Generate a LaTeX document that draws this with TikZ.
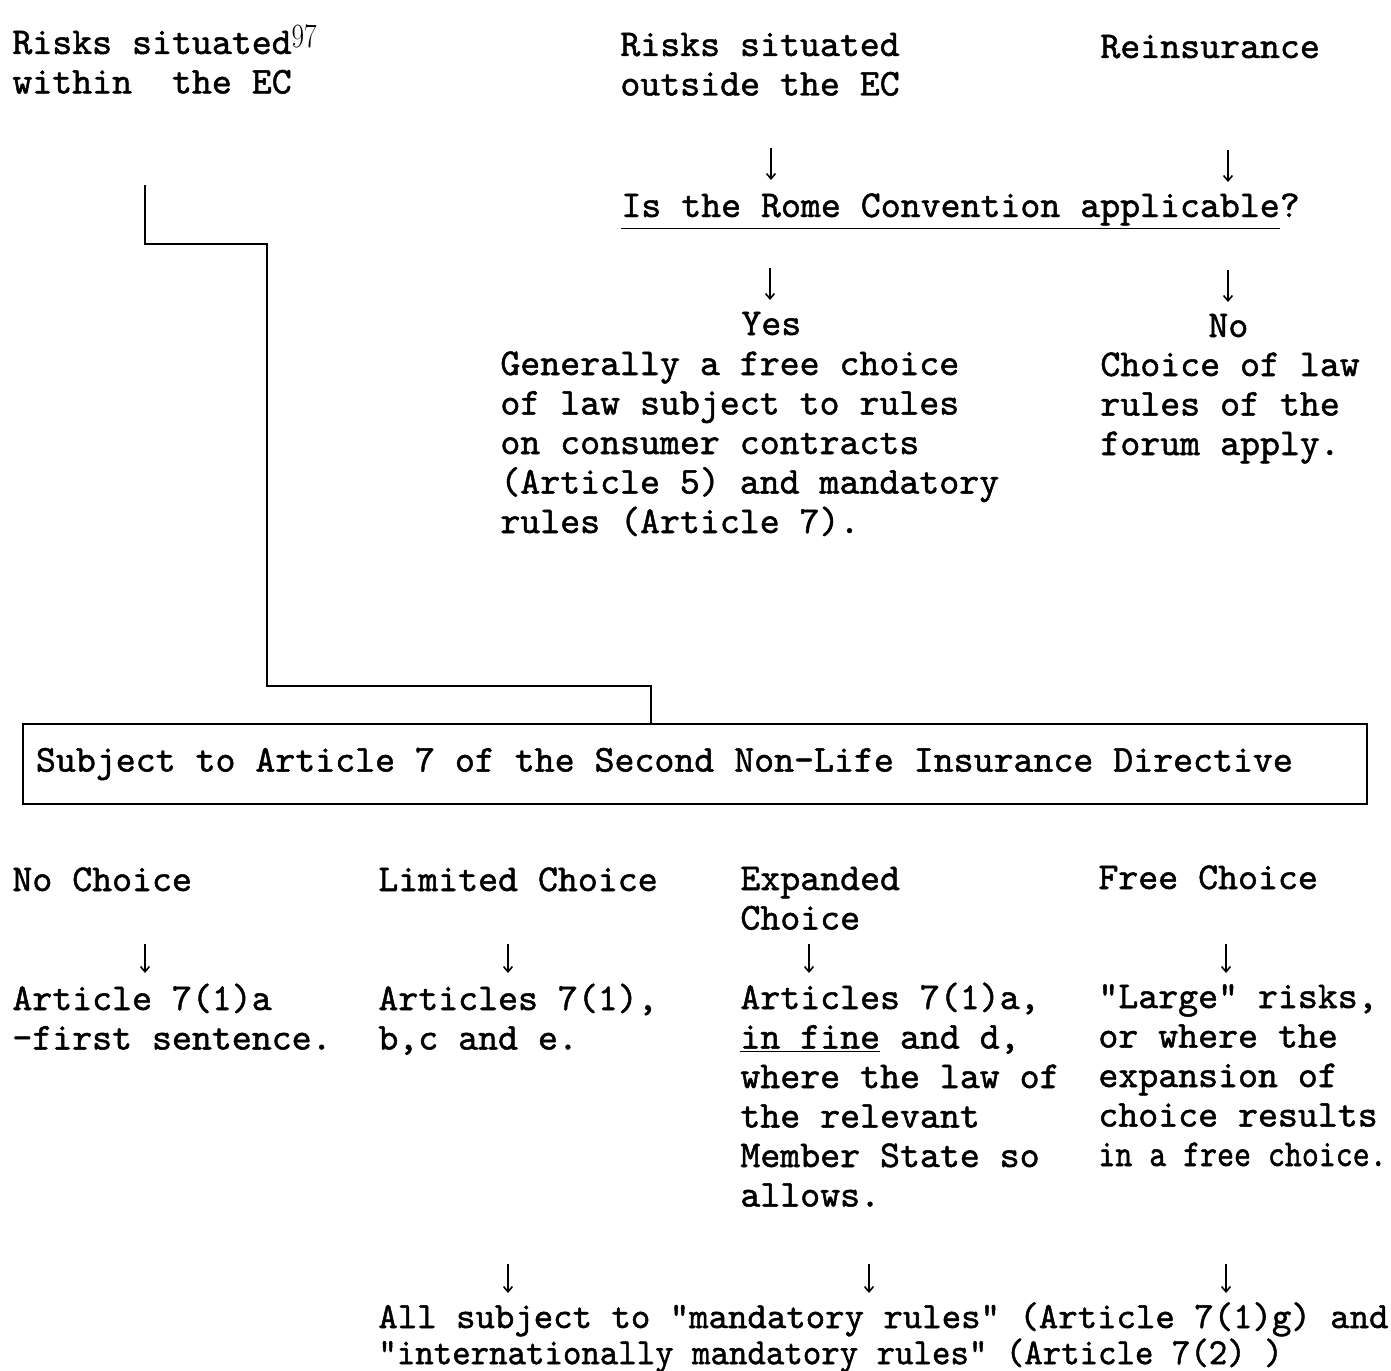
\documentclass[tikz,border=0pt]{standalone}
\usepackage{graphicx}
\usepackage{fontspec}
\setmonofont{lmmono10-regular.otf}[FakeBold=1.3]
\usetikzlibrary{arrows.meta}
\newcommand\tyfont{\ttfamily\fontsize{19}{19.75}\selectfont}
\newcommand\blk[1]{\begin{tabular}[t]{@{}l@{}}#1\end{tabular}}
\tikzset{
  txt/.style={anchor=base west, inner sep=0pt, font=\tyfont},
  arr/.style={line width=0.8pt, -{Straight Barb[length=2.6pt,width=4.4pt]}},
  wire/.style={line width=1pt},
}
\begin{document}
\begin{tikzpicture}[x=0.5pt,y=-0.5pt]
\useasboundingbox (0,0) rectangle (1391,1370);
% top row
\node[txt] (within) at (12,54) {\blk{Risks situated{\rmfamily\fontsize{17}{17}\selectfont\raisebox{3.4pt}{\scalebox{0.8}[1]{97}}}\\within\ \ the EC}};
\node[txt] (outside) at (620,56) {\blk{Risks situated\\outside the EC}};
\node[txt] (reins) at (1100,58) {Reinsurance};
\node[txt] (rome) at (621,217) {\underline{Is the Rome Convention applicable}?};
\node[txt] (yes) at (741,335) {Yes};
\node[txt] (no) at (1208,337) {No};
\node[txt] (gen) at (500,375) {\blk{Generally a free choice\\of law subject to rules\\on consumer contracts\\(Article 5) and mandatory\\rules (Article 7).}};
\node[txt] (forum) at (1100,376) {\blk{Choice of law\\rules of the\\forum apply.}};
% box
\node[draw, line width=1pt, anchor=north west, minimum width=672pt, minimum height=40pt,
      inner xsep=6.5pt, inner ysep=0pt, font=\tyfont] (box) at (22,723)
      {\makebox[659pt][l]{Subject to Article 7 of the Second Non-Life Insurance Directive}};
% choices
\node[txt] (noch) at (12,891) {No Choice};
\node[txt] (limch) at (378,891) {Limited Choice};
\node[txt] (expch) at (740,890) {\blk{Expanded\\Choice}};
\node[txt] (freech) at (1098,889) {Free Choice};
\node[txt] (art1) at (12,1010) {\blk{Article 7(1)a\\-first sentence.}};
\node[txt] (art2) at (378,1010) {\blk{Articles 7(1),\\b,c and e.}};
\node[txt] (art3) at (740,1009) {\blk{Articles 7(1)a,\\\underline{in fine} and d,\\where the law of\\the relevant\\Member State so\\allows.}};
\node[txt] (large) at (1098,1008) {\blk{"Large" risks,\\or where the\\expansion of\\choice results\\\scalebox{0.85}[1]{in a free choice.}}};
\node[txt, font=\ttfamily\fontsize{18.5}{17.5}\selectfont] (all) at (378,1328)
      {\blk{All subject to "mandatory rules" (Article 7(1)g) and\\\scalebox{0.95}[1]{"internationally mandatory rules" (Article 7(2) )}}};
% arrows
\foreach \n/\x/\ya/\yb in {t1/771/148/180, t2/1228/150/182, m1/770/268/300, m2/1228/270/302,
   c1/145/944/973, c2/508/944/973, c3/809/944/973, c4/1226/944/973,
   b1/508/1264/1293, b2/869/1264/1293, b3/1226/1264/1293}{
  \coordinate (\n s) at (\x,\ya);
  \coordinate (\n e) at (\x,\yb);
  \draw[arr] (\n s) -- (\n e);
}
% elbow connector
\coordinate (es) at (145,185);
\coordinate (j1) at (267,244);
\coordinate (j2) at (651,686);
\draw[wire] (es) |- (j1) |- (j2) -- (j2 |- box.north);
\end{tikzpicture}
\end{document}
